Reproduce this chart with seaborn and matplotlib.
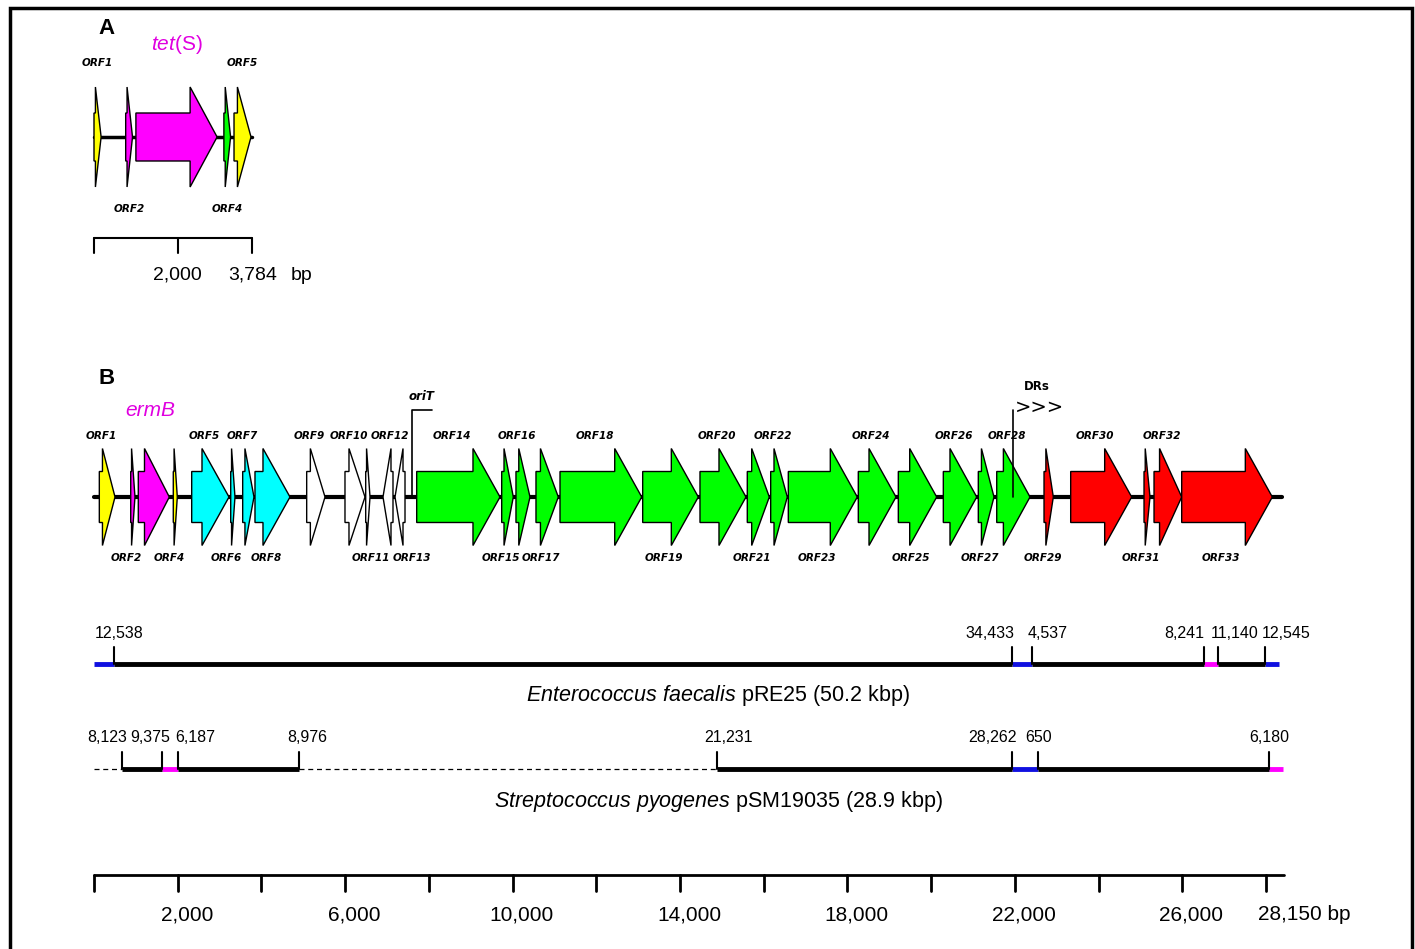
import matplotlib
matplotlib.use('Agg')
import matplotlib.pyplot as plt
from matplotlib.patches import Polygon, Rectangle
from matplotlib import font_manager
import seaborn as sns

# ---------------- data (bp) ----------------
# Panel A: tet(S) element
a_length = 3784
a_names = ['ORF1', 'ORF2', 'tet(S)', 'ORF4', 'ORF5']
a_start = [0, 757, 1001, 3103, 3345]
a_end = [170, 920, 2941, 3263, 3751]
a_colors = ['yellow', 'magenta', 'magenta', 'lime', 'yellow']
a_side = ['up', 'down', None, 'down', 'up']
a_scale_ticks = [0, 2000, 3784]
a_scale_labels = ['', '2,000', '3,784']

# Panel B: ermB element
b_length = 28150
b_names = ['ORF%d' % i for i in range(1, 34)]
b_start = [127, 877, 1058, 1894, 2334, 3266, 3552, 3846, 5081, 5996, 6491,
           6904, 7191, 7709, 9740, 10081, 10559, 11133, 13108, 14477, 15607,
           16166, 16587, 18259, 19215, 20290, 21126, 21566, 22696, 23333,
           25085, 25324, 25985]
b_end = [502, 979, 1799, 1990, 3225, 3368, 3822, 4682, 5519, 6474, 6594,
         7143, 7430, 9699, 10017, 10416, 11092, 13085, 14437, 15576, 16133,
         16563, 18235, 19160, 20132, 21088, 21501, 22361, 22918, 24790,
         25228, 25985, 28150]
b_strand = [1] * 11 + [-1, -1] + [1] * 20
b_colors = (['yellow'] + ['magenta'] * 2 + ['yellow'] + ['cyan'] * 4 +
            ['white'] * 5 + ['lime'] * 15 + ['red'] * 5)
b_side = ['up', 'down', None, 'down', 'up', 'down', 'up', 'down', 'up', 'up',
          'down', 'up', 'down'] + ['up', 'down'] * 10
orit_pos = 7590
drs_pos = 21948

# comparison tracks: segments (start, end, kind) and breakpoints
ef_seg_start = [0, 471, 21928, 22418, 26506, 26862, 27966]
ef_seg_end = [471, 21928, 22418, 26506, 26862, 27966, 28300]
ef_seg_kind = ['blue', 'black', 'blue', 'black', 'magenta', 'black', 'blue']
ef_ticks = [471, 21928, 22418, 26506, 26862, 27966]
ef_tick_labels = ['12,538', '34,433', '4,537', '8,241', '11,140', '12,545']

sp_seg_start = [0, 671, 1632, 1997, 4895, 14885, 21928, 22562, 28061]
sp_seg_end = [671, 1632, 1997, 4895, 14885, 21928, 22562, 28061, 28414]
sp_seg_kind = ['dashed', 'black', 'magenta', 'black', 'dashed', 'black',
               'blue', 'black', 'magenta']
sp_ticks = [671, 1632, 1997, 4895, 14885, 21928, 22562, 28061]
sp_tick_labels = ['8,123', '9,375', '6,187', '8,976', '21,231', '28,262',
                  '650', '6,180']

scale_ticks = list(range(0, 28001, 2000))
scale_labels = ['2,000', '6,000', '10,000', '14,000', '18,000', '22,000',
                '26,000']
scale_label_pos = [2000, 6000, 10000, 14000, 18000, 22000, 26000]

# ---------------- layout ----------------
W, H = 1415, 949
BP_PER_PX = 23.89
X0_PX = 94
HEAD_LEN = 27 * BP_PER_PX


def px(n):
    return n * BP_PER_PX


sns.set_theme(style='white')


def has_font(name):
    try:
        font_manager.findfont(name, fallback_to_default=False)
        return True
    except ValueError:
        return False


NARROW = 'Liberation Sans Narrow' if has_font('Liberation Sans Narrow') else 'Liberation Sans'
NARROW_SIZE = 17 if NARROW == 'Liberation Sans Narrow' else 15
plt.rcParams['font.family'] = ['Liberation Sans', 'DejaVu Sans']
plt.rcParams['text.color'] = 'black'
plt.rcParams['mathtext.fontset'] = 'custom'
plt.rcParams['mathtext.rm'] = 'Liberation Sans'
plt.rcParams['mathtext.it'] = 'Liberation Sans:italic'

fig = plt.figure(figsize=(W / 100, H / 100), dpi=100)
ax = fig.add_axes([0, 0, 1, 1])
ax.set_xlim(-X0_PX * BP_PER_PX, (W - X0_PX) * BP_PER_PX)
ax.set_ylim(H, 0)
ax.axis('off')

colmap = {'black': 'black', 'blue': '#1010e0', 'magenta': '#ff00ff'}
orf_font = dict(family='DejaVu Sans', fontsize=7.5, fontweight='bold',
                fontstyle='italic', ha='center', va='center', color='black')


def draw_gene(start, end, strand, y, color, head_h, body_h):
    head = min(HEAD_LEN, 0.8 * (end - start))
    if strand > 0:
        tail, tip, base = start, end, end - head
    else:
        tail, tip, base = end, start, start + head
    pts = [(tail, y - body_h), (base, y - body_h), (base, y - head_h),
           (tip, y), (base, y + head_h), (base, y + body_h), (tail, y + body_h)]
    ax.add_patch(Polygon(pts, closed=True, fc=color, ec='black', lw=1.0,
                         zorder=3))


# ---------------- panel A ----------------
A_Y = 137
ax.text(px(13), 28, 'A', fontsize=16, fontweight='bold', ha='center', va='center')
sns.lineplot(x=[0, a_length], y=[A_Y, A_Y], color='black', linewidth=2.5,
             ax=ax, zorder=1)
for s, e, c, n, side in zip(a_start, a_end, a_colors, a_names, a_side):
    draw_gene(s, e, 1, A_Y, c, 50, 24)
    mid = (s + e) / 2
    if side == 'up':
        ax.text(mid, A_Y - 74, n, **orf_font)
    elif side == 'down':
        ax.text(mid, A_Y + 72, n, **orf_font)
    else:
        ax.text(mid, 44, r'$\it{tet}$(S)', color='#e000e0', fontsize=15,
                ha='center', va='center')

A_SY = 238
ax.plot([0, a_length], [A_SY, A_SY], color='black', lw=1.5)
for t, lab in zip(a_scale_ticks, a_scale_labels):
    ax.plot([t, t], [A_SY, A_SY + 15], color='black', lw=1.5)
    if lab:
        ax.text(t, 275, lab, fontsize=14, ha='center', va='center',
                family=NARROW)
ax.text(a_scale_ticks[-1] + px(38), 275, 'bp', fontsize=14, ha='left',
        va='center', family=NARROW)

# ---------------- panel B ----------------
B_Y = 497
ax.text(px(13), 378, 'B', fontsize=16, fontweight='bold', ha='center', va='center')
sns.lineplot(x=[0, b_length + px(10)], y=[B_Y, B_Y], color='black',
             linewidth=3, ax=ax, zorder=1)
nudge = {'ORF11': 220, 'ORF12': 190, 'ORF13': 430}
for s, e, st, c, n, side in zip(b_start, b_end, b_strand, b_colors, b_names,
                                b_side):
    draw_gene(s, e, st, B_Y, c, 48.5, 25.5)
    lx = (s + e) / 2 - 150 + nudge.get(n, 0)
    if side == 'up':
        ax.text(lx, B_Y - 61, n, **orf_font)
    elif side == 'down':
        ax.text(lx, B_Y + 61, n, **orf_font)
    else:
        ax.text((s + e) / 2 - 80, 410, 'ermB', color='#e000e0', fontsize=15,
                fontstyle='italic', ha='center', va='center')

# oriT and DRs marks
ax.plot([orit_pos, orit_pos, orit_pos + px(20)], [B_Y, 410, 410],
        color='black', lw=1.2, zorder=4)
ax.text(orit_pos + px(10), 397, 'oriT', family='DejaVu Sans', fontsize=8.5,
        fontweight='bold', fontstyle='italic', ha='center', va='center')
ax.plot([drs_pos, drs_pos], [410, B_Y], color='black', lw=1.2, zorder=4)
ax.text(drs_pos + px(24), 387, 'DRs', family='DejaVu Sans', fontsize=8.5,
        fontweight='bold', ha='center', va='center')
ax.text(drs_pos + px(2), 407, '>>>', family='DejaVu Sans', fontsize=14,
        ha='left', va='center')


def draw_track(y, seg_start, seg_end, seg_kind, ticks, labels, aligns, title):
    for s, e, k in zip(seg_start, seg_end, seg_kind):
        if k == 'dashed':
            ax.plot([s, e], [y, y], color='black', lw=0.9, dashes=(4, 3),
                    zorder=1)
        else:
            ax.plot([s, e], [y, y], color=colmap[k], lw=3.5,
                    solid_capstyle='butt', zorder=2 if k == 'black' else 1)
    for t, lab, (ha, dx) in zip(ticks, labels, aligns):
        ax.plot([t, t], [y, y - 17], color='black', lw=1.5, zorder=3)
        ax.text(t + px(dx), y - 31, lab, fontsize=11.5, ha=ha, va='center')
    ax.text(px(624), y + 32, title, fontsize=15.5, ha='center', va='center')


draw_track(664, ef_seg_start, ef_seg_end, ef_seg_kind, ef_ticks,
           ef_tick_labels,
           [('center', 5), ('right', 3), ('left', -5), ('right', 1),
            ('left', -8), ('left', -3)],
           r'$\it{Enterococcus\ faecalis}$ pRE25 (50.2 kbp)')
draw_track(769, sp_seg_start, sp_seg_end, sp_seg_kind, sp_ticks,
           sp_tick_labels,
           [('right', 5), ('right', 8), ('left', -2), ('center', 8),
            ('center', 11), ('right', 5), ('center', 0), ('center', 1)],
           r'$\it{Streptococcus\ pyogenes}$ pSM19035 (28.9 kbp)')

# ---------------- bottom scale ----------------
S_Y = 875
ax.plot([0, b_length + px(12)], [S_Y, S_Y], color='black', lw=2)
for t in scale_ticks:
    ax.plot([t, t], [S_Y, S_Y + 16], color='black', lw=2)
for t, lab in zip(scale_label_pos, scale_labels):
    ax.text(t + px(9), 915, lab, fontsize=NARROW_SIZE, ha='center',
            va='center', family=NARROW)
ax.text(scale_ticks[-1] - px(8), 915, '28,150 bp', fontsize=NARROW_SIZE,
        ha='left', va='center', family=NARROW)

# frame
ax.add_patch(Rectangle((10 / W, -0.05), 1402 / W, 1.05 - 8 / H,
                       transform=ax.transAxes, fill=False, ec='black', lw=2.5,
                       clip_on=False))

fig.savefig('out.png', dpi=100, facecolor='white')
